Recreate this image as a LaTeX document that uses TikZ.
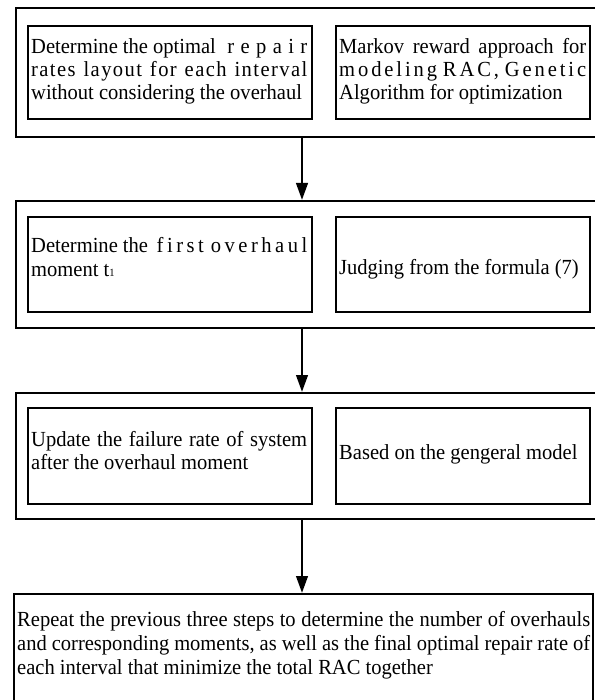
\documentclass[tikz,border=0pt]{standalone}
\usepackage{fontspec}
\newfontfamily\tnr[FakeStretch=0.955]{Liberation Serif}
\usetikzlibrary{arrows.meta}
\newcommand\hf{\hfill}
\begin{document}
\begin{tikzpicture}[x=1pt,y=-1pt,
  outerbox/.style={draw, line width=1.6pt, inner sep=0pt, anchor=north west},
  innerbox/.style={draw, line width=2pt, inner sep=0pt, anchor=north west},
  flow/.style={draw, line width=2.6pt, -{Triangle[length=17pt,width=11.5pt]}},
  txt/.style={anchor=base west, inner sep=0pt, font=\tnr\fontsize{21.5}{23}\selectfont}]
\useasboundingbox[fill=white] (0,0) rectangle (594,700);
% box 1
\node[outerbox, minimum width=582pt, minimum height=129pt] (o1) at (15,7) {};
\node[innerbox, minimum width=284pt, minimum height=93pt] (i1l) at (27,25) {};
\node[innerbox, minimum width=254pt, minimum height=93pt] (i1r) at (335,25) {};
% box 2
\node[outerbox, minimum width=582pt, minimum height=127pt] (o2) at (15,200) {};
\node[innerbox, minimum width=284pt, minimum height=95pt] (i2l) at (27,216) {};
\node[innerbox, minimum width=254pt, minimum height=95pt] (i2r) at (335,216) {};
% box 3
\node[outerbox, minimum width=582pt, minimum height=126pt] (o3) at (15,392) {};
\node[innerbox, minimum width=284pt, minimum height=96pt] (i3l) at (27,407) {};
\node[innerbox, minimum width=254pt, minimum height=96pt] (i3r) at (335,407) {};
% box 4
\node[innerbox, minimum width=579pt, minimum height=130pt] (o4) at (13,593) {};
% arrows
\coordinate (ax) at (302,0);
\draw[flow] (o1.south -| ax) -- (o2.north -| ax);
\draw[flow] (o2.south -| ax) -- (o3.north -| ax);
\draw[flow] (o3.south -| ax) -- (o4.north -| ax);
% texts box 1
\node[txt] (t1a) at (31,54) {\makebox[276pt][s]{Determine the optimal\hf\ r\hf e\hf p\hf a\hf i\hf r}};
\node[txt] (t1b) at (31,77) {\makebox[276pt][s]{r\hf a\hf t\hf e\hf s \hf\hf l\hf a\hf y\hf o\hf u\hf t \hf\hf f\hf o\hf r \hf\hf e\hf a\hf c\hf h \hf\hf i\hf n\hf t\hf e\hf r\hf v\hf a\hf l}};
\node[txt] (t1c) at (31,100) {without considering the overhaul};
\node[txt] (t1d) at (339,54) {\makebox[247pt][s]{Markov reward approach for}};
\node[txt] (t1e) at (339,77) {\makebox[247pt][s]{m\hf o\hf d\hf e\hf l\hf i\hf n\hf g\hf\hf R\hf A\hf C\hf ,\hf\hf G\hf e\hf n\hf e\hf t\hf i\hf c}};
\node[txt] (t1f) at (339,100) {Algorithm for optimization};
% texts box 2
\node[txt] (t2a) at (31,253) {\makebox[276pt][s]{Determine the\hf\ f\hf i\hf r\hf s\hf t\hf\hf o\hf v\hf e\hf r\hf h\hf a\hf u\hf l}};
\node[txt] (t2b) at (31,276) {moment t{\fontsize{11}{11}\selectfont\raisebox{-1pt}{1}}};
\node[txt] (t2c) at (339,274) {Judging from the formula (7)};
% texts box 3
\node[txt] (t3a) at (31,446) {\makebox[276pt][s]{Update the failure rate of system}};
\node[txt] (t3b) at (31,469) {after the overhaul moment};
\node[txt] (t3c) at (339,459) {Based on the gengeral model};
% texts box 4
\node[txt] (t4a) at (17,626) {\makebox[573pt][s]{Repeat the previous three steps to determine the number of overhauls}};
\node[txt] (t4b) at (17,650) {\makebox[573pt][s]{and corresponding moments, as well as the final optimal repair rate of}};
\node[txt] (t4c) at (17,674) {each interval that minimize the total RAC together};
\end{tikzpicture}
\end{document}
